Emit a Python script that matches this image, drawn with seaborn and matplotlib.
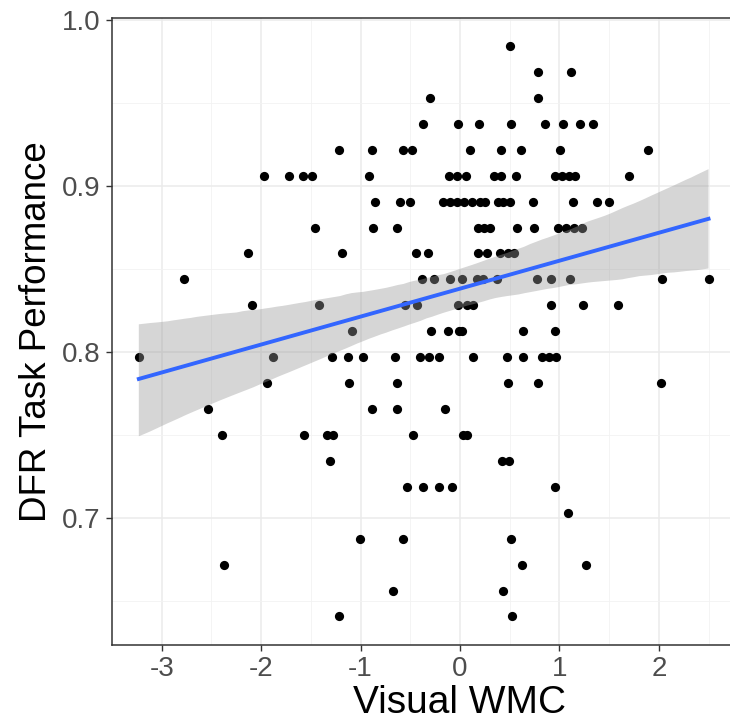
import pandas as pd
import matplotlib.pyplot as plt
import numpy as np
import seaborn as sns

# puntos, agrupados por nivel de DFR (pasos de 1/64)
dfr_levels = [0.984375, 0.96875, 0.953125, 0.9375, 0.921875, 0.90625, 0.890625,
              0.875, 0.859375, 0.84375, 0.828125, 0.8125, 0.796875, 0.78125,
              0.765625, 0.75, 0.734375, 0.71875, 0.703125, 0.6875, 0.671875,
              0.65625, 0.640625]

wmc_rows = [
    [0.50],
    [0.78, 1.12],
    [-0.30, 0.78],
    [-0.37, -0.02, 0.19, 0.51, 0.86, 1.04, 1.21, 1.34],
    [-1.22, -0.88, -0.57, -0.48, 0.10, 0.41, 0.61, 1.01, 1.89],
    [-1.97, -1.72, -1.58, -1.49, -0.91, -0.11, -0.03, 0.06, 0.34, 0.41, 0.56,
     0.96, 1.03, 1.10, 1.16, 1.70],
    [-0.85, -0.60, -0.50, -0.17, -0.10, -0.03, 0.04, 0.12, 0.20, 0.25, 0.38,
     0.43, 0.50, 0.73, 1.14, 1.38, 1.50],
    [-1.46, -0.87, -0.63, 0.18, 0.24, 0.30, 0.57, 0.74, 0.99, 1.07, 1.15, 1.23],
    [-2.13, -1.19, -0.44, -0.32, 0.18, 0.27, 0.40, 0.48, 0.54],
    [-2.78, -0.38, -0.26, -0.10, 0.02, 0.17, 0.23, 0.37, 0.77, 0.92, 1.11,
     2.03, 2.50],
    [-2.09, -1.42, -0.55, -0.43, -0.02, 0.07, 0.13, 0.92, 1.24, 1.59],
    [-1.09, -0.29, -0.12, -0.01, 0.02, 0.63, 0.96],
    [-3.23, -1.88, -1.29, -1.13, -0.98, -0.65, -0.40, -0.31, -0.21, 0.13,
     0.47, 0.63, 0.83, 0.90, 0.97],
    [-1.94, -1.12, -0.63, 0.48, 0.78, 2.02],
    [-2.53, -0.88, -0.63, -0.15],
    [-2.39, -1.57, -1.34, -1.28, -0.47, 0.03, 0.07],
    [-1.31, 0.42, 0.49],
    [-0.53, -0.37, -0.21, -0.08, 0.96],
    [1.09],
    [-1.01, -0.57, 0.51],
    [-2.37, 0.62, 1.27],
    [-0.67, 0.43],
    [-1.22, 0.52],
]

x_ticks = [-3, -2, -1, 0, 1, 2]
y_ticks = [0.7, 0.8, 0.9, 1.0]
y_ticklabels = ["0.7", "0.8", "0.9", "1.0"]

rows = []
for lvl, xs in zip(dfr_levels, wmc_rows):
    for xv in xs:
        rows.append((xv, lvl))
df = pd.DataFrame(rows, columns=["Visual WMC", "DFR Task Performance"])

plt.rcParams['font.family'] = ['Liberation Sans', 'DejaVu Sans']

fig = plt.figure(figsize=(7.30, 7.24), dpi=100)
ax = fig.add_axes([0.1534, 0.1091, 0.9534, 0.8667])

sns.scatterplot(data=df, x="Visual WMC", y="DFR Task Performance", ax=ax,
                color="black", s=44, linewidth=0, zorder=2)
sns.regplot(data=df, x="Visual WMC", y="DFR Task Performance", ax=ax,
            scatter=False, ci=95, color="#3366FF",
            line_kws={"linewidth": 2.8, "zorder": 4})

# banda gris encima de los puntos, como en ggplot
for coll in ax.collections[1:]:
    coll.set_facecolor("#999999")
    coll.set_alpha(0.4)
    coll.set_edgecolor("none")
    coll.set_zorder(3)

ax.set_xlim(-3.5, 3.5)
ax.set_ylim(0.6234, 1.0016)
ax.set_xticks(x_ticks)
ax.set_xticklabels([str(t) for t in x_ticks])
ax.set_yticks(y_ticks)
ax.set_yticklabels(y_ticklabels)
ax.set_xticks([-2.5, -1.5, -0.5, 0.5, 1.5, 2.5], minor=True)
ax.set_yticks([0.65, 0.75, 0.85, 0.95], minor=True)
ax.grid(True, which="major", color="#EBEBEB", linewidth=1.1, zorder=0)
ax.grid(True, which="minor", color="#F2F2F2", linewidth=0.6, zorder=0)
ax.set_axisbelow(True)
ax.tick_params(which="minor", length=0)
ax.tick_params(which="major", length=4, width=1, color="#333333",
               labelsize=20, labelcolor="#4D4D4D", pad=4)
for sp in ax.spines.values():
    sp.set_color("#333333")
    sp.set_linewidth(1.1)

ax.set_xlabel("Visual WMC", fontsize=28, color="black", labelpad=2)
ax.set_ylabel("DFR Task Performance", fontsize=26.5, color="black", labelpad=6)

fig.savefig("out.png", dpi=100)
